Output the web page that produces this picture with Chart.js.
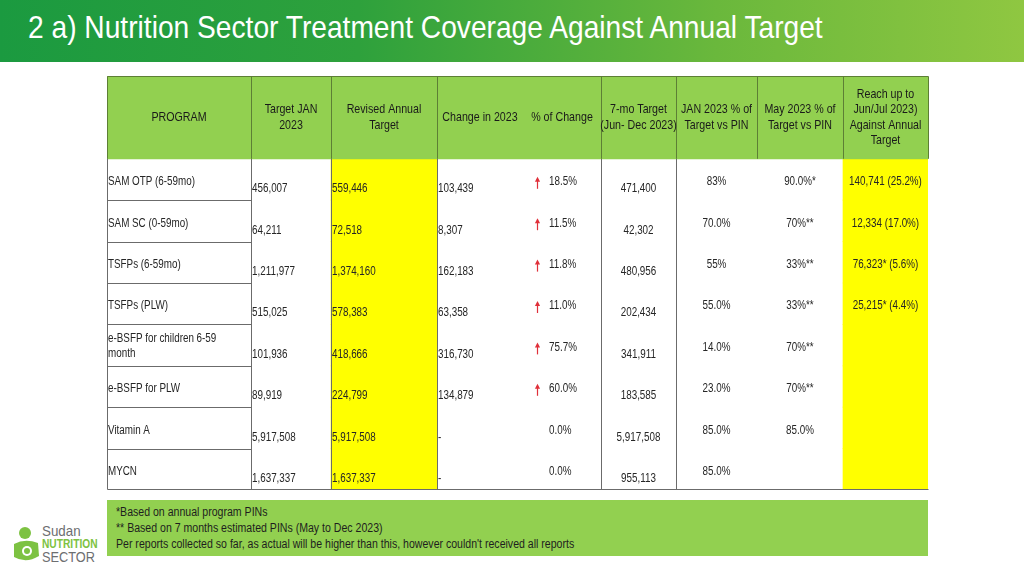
<!DOCTYPE html>
<html>
<head>
<meta charset="utf-8">
<script src="https://cdn.jsdelivr.net/npm/chart.js@4"></script>
<style>
  body { margin: 0; width: 1024px; height: 576px; background: #fff; position: relative; overflow: hidden;
         font-family: 'Liberation Sans', Arial, sans-serif; }
  .narrow { display: inline-block; transform: scaleX(0.82); transform-origin: 0 0; white-space: nowrap; }
  #title { position: absolute; left: 0; top: 0; width: 1024px; height: 62px;
           background: linear-gradient(90deg, #1b9a40 0%, #2ea13c 35%, #6ab83c 70%, #8fc741 100%); }
  #title h1 { margin: 0; position: absolute; left: 28px; top: 11px; color: #fff; font-weight: normal;
              font-size: 32px; line-height: 32px; }
  #title h1 .narrow { transform: scaleX(0.88); }
  #table-wrap { position: absolute; left: 106px; top: 75px; width: 823px; height: 416px; }
  #notes { position: absolute; left: 107px; top: 500px; width: 812px; height: 52px; background: #92d050;
           padding: 4px 0 0 9px; font-size: 12.5px; line-height: 16px; color: #1e1e1e; }
  #notes .narrow { transform: scaleX(0.845); }
  #logo { position: absolute; left: 12px; top: 527px; }
  #logo .t { position: absolute; left: 30px; white-space: nowrap; }
</style>
</head>
<body>
<div id="title"><h1><span class="narrow">2 a) Nutrition Sector Treatment Coverage Against Annual Target</span></h1></div>
<div id="table-wrap"><canvas id="coverage-table"></canvas></div>
<div id="notes"><span class="narrow">
  *Based on annual program PINs<br>
  ** Based on 7 months estimated PINs (May to Dec 2023)<br>
  Per reports collected so far, as actual will be higher than this, however couldn't received all reports
</span></div>
<div id="logo">
  <svg width="30" height="36" viewBox="0 0 30 36">
    <circle cx="13" cy="6" r="6" fill="#7dc242"/>
    <path d="M2 17 Q13 11 26 16 L27 29 Q14 37 2 30 Z" fill="#7dc242"/>
    <circle cx="15" cy="24" r="5" fill="#fff"/>
    <circle cx="15" cy="24" r="3" fill="#7dc242"/>
  </svg>
  <div class="t" style="top:-4px;font-size:14.5px;color:#6d6e71;"><span class="narrow" style="transform:scaleX(0.92)">Sudan</span></div>
  <div class="t" style="top:10px;font-size:12px;font-weight:bold;color:#7dc242;"><span class="narrow" style="transform:scaleX(0.85)">NUTRITION</span></div>
  <div class="t" style="top:21px;font-size:15px;color:#6d6e71;"><span class="narrow" style="transform:scaleX(0.85)">SECTOR</span></div>
</div>

<script>
// table contents
const columnHeaders = [
  ["PROGRAM"],
  ["Target JAN", "2023"],
  ["Revised Annual", "Target"],
  ["Change in 2023"],
  ["% of Change"],
  ["7-mo Target", "(Jun- Dec 2023)"],
  ["JAN 2023 % of", "Target vs PIN"],
  ["May 2023 % of", "Target vs PIN"],
  ["Reach up to", "Jun/Jul 2023)", "Against Annual", "Target"],
];

const programs = [
  "SAM OTP (6-59mo)",
  "SAM SC (0-59mo)",
  "TSFPs (6-59mo)",
  "TSFPs (PLW)",
  "e-BSFP for children 6-59 month",
  "e-BSFP for PLW",
  "Vitamin A",
  "MYCN",
];
const targetJan = [456007, 64211, 1211977, 515025, 101936, 89919, 5917508, 1637337];
const revisedTarget = [559446, 72518, 1374160, 578383, 418666, 224799, 5917508, 1637337];
const changeIn2023 = [103439, 8307, 162183, 63358, 316730, 134879, null, null];
const pctChange = [18.5, 11.5, 11.8, 11.0, 75.7, 60.0, 0.0, 0.0];
const sevenMoTarget = [471400, 42302, 480956, 202434, 341911, 183585, 5917508, 955113];
const janPctPin = ["83%", "70.0%", "55%", "55.0%", "14.0%", "23.0%", "85.0%", "85.0%"];
const mayPctPin = ["90.0%*", "70%**", "33%**", "33%**", "70%**", "70%**", "85.0%", ""];
const reachToDate = ["140,741 (25.2%)", "12,334 (17.0%)", "76,323* (5.6%)", "25,215* (4.4%)", "", "", "", ""];

// layout
const colWidths = [144, 80, 106, 86, 78, 75, 81, 86, 85];
const colEdges = [0];
colWidths.forEach((w) => colEdges.push(colEdges[colEdges.length - 1] + w));
const tableWidth = colEdges[colEdges.length - 1];
const headerRows = 2;
const rowLabels = ["header-a", "header-b"].concat(programs);
const FONT = "'Liberation Sans', Arial, sans-serif";
const NARROW = 0.82; // Arial Narrow look

const fmt = (v) => (v === null ? "-" : v.toLocaleString("en-US"));

function cellFill(col) {
  return rowLabels.map((_, i) => (i < headerRows ? null : [colEdges[col], colEdges[col + 1]]));
}

function text(ctx, str, x, y, align) {
  ctx.save();
  ctx.translate(x, y);
  ctx.scale(NARROW, 1);
  ctx.textAlign = align;
  ctx.fillText(str, 0, 0);
  ctx.restore();
}

function wrap(ctx, str, maxW) {
  const words = str.split(" ");
  const lines = [];
  let line = "";
  words.forEach((w) => {
    const test = line ? line + " " + w : w;
    if (ctx.measureText(test).width * NARROW > maxW && line) {
      lines.push(line);
      line = w;
    } else {
      line = test;
    }
  });
  lines.push(line);
  return lines;
}

function upArrow(ctx, x, y) {
  ctx.save();
  ctx.strokeStyle = "#e0303a";
  ctx.fillStyle = "#e0303a";
  ctx.lineWidth = 1.2;
  ctx.beginPath();
  ctx.moveTo(x, y - 3);
  ctx.lineTo(x, y + 6);
  ctx.stroke();
  ctx.beginPath();
  ctx.moveTo(x - 2.6, y - 1);
  ctx.lineTo(x, y - 6);
  ctx.lineTo(x + 2.6, y - 1);
  ctx.closePath();
  ctx.fill();
  ctx.restore();
}

const tablePlugin = {
  id: "tableText",
  afterDatasetsDraw(chart) {
    const { ctx, scales } = chart;
    const x = scales.x;
    const y = scales.y;
    const rowH = y.height / rowLabels.length;
    const px = (c) => Math.round(x.getPixelForValue(colEdges[c])) + 0.5;
    const rowTop = (r) => y.getPixelForValue(r) - rowH / 2;
    const top = Math.round(rowTop(0)) + 0.5;
    const headBottom = rowTop(headerRows);
    const bottom = Math.round(rowTop(rowLabels.length - 1) + rowH) - 0.5;

    ctx.save();
    ctx.lineWidth = 1;

    // header borders
    ctx.strokeStyle = "#5d7f35";
    ctx.beginPath();
    ctx.moveTo(px(0), top);
    ctx.lineTo(px(colWidths.length), top);
    [0, 1, 2, 3, 5, 6, 7, 8, 9].forEach((c) => {
      ctx.moveTo(px(c), top);
      ctx.lineTo(px(c), headBottom);
    });
    ctx.stroke();

    // body borders
    ctx.strokeStyle = "#6b6b6b";
    ctx.beginPath();
    [0, 1, 2, 3, 5, 6].forEach((c) => {
      ctx.moveTo(px(c), headBottom);
      ctx.lineTo(px(c), bottom);
    });
    for (let r = headerRows + 1; r < rowLabels.length; r++) {
      const yy = Math.round(rowTop(r)) + 0.5;
      ctx.moveTo(px(0), yy);
      ctx.lineTo(px(1), yy);
    }
    ctx.moveTo(px(0), bottom);
    ctx.lineTo(px(colWidths.length), bottom);
    ctx.stroke();

    // header text
    ctx.fillStyle = "#1a1a1a";
    ctx.font = "13px " + FONT;
    ctx.textBaseline = "middle";
    const headMid = (top + headBottom) / 2;
    columnHeaders.forEach((lines, c) => {
      const cx = x.getPixelForValue((colEdges[c] + colEdges[c + 1]) / 2);
      const lh = 15.5;
      lines.forEach((t, k) => {
        text(ctx, t, cx, headMid + (k - (lines.length - 1) / 2) * lh, "center");
      });
    });

    // body text
    ctx.font = "12px " + FONT;
    ctx.fillStyle = "#262626";
    const left = (c) => x.getPixelForValue(colEdges[c]) + 1;
    const mid = (c) => x.getPixelForValue((colEdges[c] + colEdges[c + 1]) / 2);
    programs.forEach((name, i) => {
      const t = rowTop(i + headerRows);
      const hi = t + 23;
      const lo = t + 30;

      const nameLines = wrap(ctx, name, 132);
      if (nameLines.length > 1) {
        nameLines.forEach((ln, k) => text(ctx, ln, left(0), t + 14 + k * 15, "left"));
      } else {
        text(ctx, name, left(0), hi, "left");
      }
      text(ctx, fmt(targetJan[i]), left(1), lo, "left");
      text(ctx, fmt(revisedTarget[i]), left(2), lo, "left");
      text(ctx, fmt(changeIn2023[i]), left(3), lo, "left");
      text(ctx, pctChange[i].toFixed(1) + "%", x.getPixelForValue(colEdges[4]) + 26, hi, "left");
      if (pctChange[i] > 0) {
        upArrow(ctx, Math.round(x.getPixelForValue(colEdges[4]) + 14) + 0.5, hi + 1);
      }
      text(ctx, fmt(sevenMoTarget[i]), mid(5), lo, "center");
      text(ctx, janPctPin[i], mid(6), hi, "center");
      text(ctx, mayPctPin[i], mid(7), hi, "center");
      text(ctx, reachToDate[i], mid(8), hi, "center");
    });
    ctx.restore();
  },
};

const ctx = document.getElementById("coverage-table").getContext("2d");

new Chart(ctx, {
  type: "bar",
  data: {
    labels: rowLabels,
    datasets: [
      {
        label: "header",
        data: rowLabels.map((_, i) => (i < headerRows ? [0, tableWidth] : null)),
        backgroundColor: "#92d050",
      },
      { label: "Revised Annual Target", data: cellFill(2), backgroundColor: "#ffff00" },
      { label: "Reach", data: cellFill(8), backgroundColor: "#ffff00" },
    ],
  },
  options: {
    indexAxis: "y",
    responsive: true,
    maintainAspectRatio: false,
    animation: false,
    layout: { padding: 1 },
    datasets: {
      bar: { barPercentage: 1, categoryPercentage: 1, grouped: false, borderWidth: 0 },
    },
    plugins: { legend: { display: false }, tooltip: { enabled: false } },
    scales: {
      x: { type: "linear", min: 0, max: tableWidth, display: false },
      y: { type: "category", display: false, offset: true },
    },
  },
  plugins: [tablePlugin],
});
</script>
</body>
</html>
